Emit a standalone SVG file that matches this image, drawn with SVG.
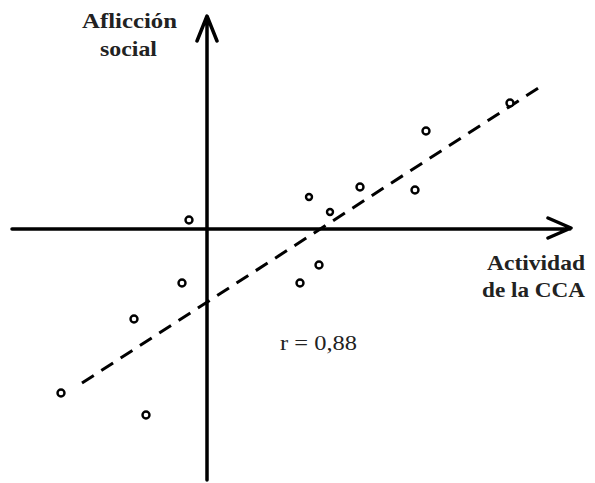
<svg xmlns="http://www.w3.org/2000/svg" width="595" height="483" viewBox="0 0 595 483">
<style>
.axis{stroke:#000;stroke-width:3.5;fill:none;stroke-linecap:round;stroke-linejoin:round}
.trend{stroke:#000;stroke-width:3;fill:none;stroke-dasharray:14 9}
.pt{stroke:#000;stroke-width:2.4;fill:#fff}
.lbl{font-family:"Liberation Serif",serif;font-size:22px;fill:#222}
.b{font-weight:bold}
</style>
<rect width="595" height="483" fill="#fff"/>
<g id="connectors">
<path class="axis" d="M207,480 V17 M197,41 L207,16 L217,41"/>
<path class="axis" d="M12,229 H570 M548,218 L571,228 L548,238"/>
<path class="trend" d="M82,383 L543,85"/>
</g>
<g id="points">
<circle class="pt" cx="189" cy="220" r="3.5"/>
<circle class="pt" cx="510" cy="103" r="3.5"/>
<circle class="pt" cx="426" cy="131" r="3.5"/>
<circle class="pt" cx="309" cy="197" r="3"/>
<circle class="pt" cx="360" cy="187" r="3.5"/>
<circle class="pt" cx="330" cy="212" r="3"/>
<circle class="pt" cx="415" cy="190" r="3.5"/>
<circle class="pt" cx="319" cy="265" r="3.5"/>
<circle class="pt" cx="300" cy="283" r="3.5"/>
<circle class="pt" cx="182" cy="283" r="3.5"/>
<circle class="pt" cx="134" cy="319" r="3.5"/>
<circle class="pt" cx="61" cy="393" r="3.5"/>
<circle class="pt" cx="146" cy="415" r="3.5"/>
</g>
<g id="label-y">
<text class="lbl b" x="82" y="28" textLength="95" lengthAdjust="spacingAndGlyphs">Aflicción</text>
<text class="lbl b" x="100" y="56" textLength="57" lengthAdjust="spacingAndGlyphs">social</text>
</g>
<g id="label-x">
<text class="lbl b" x="487" y="270" textLength="98" lengthAdjust="spacingAndGlyphs">Actividad</text>
<text class="lbl b" x="482" y="297" textLength="103" lengthAdjust="spacingAndGlyphs">de la CCA</text>
</g>
<g id="label-r">
<text class="lbl" x="280" y="350" textLength="77" lengthAdjust="spacingAndGlyphs">r = 0,88</text>
</g>
</svg>
